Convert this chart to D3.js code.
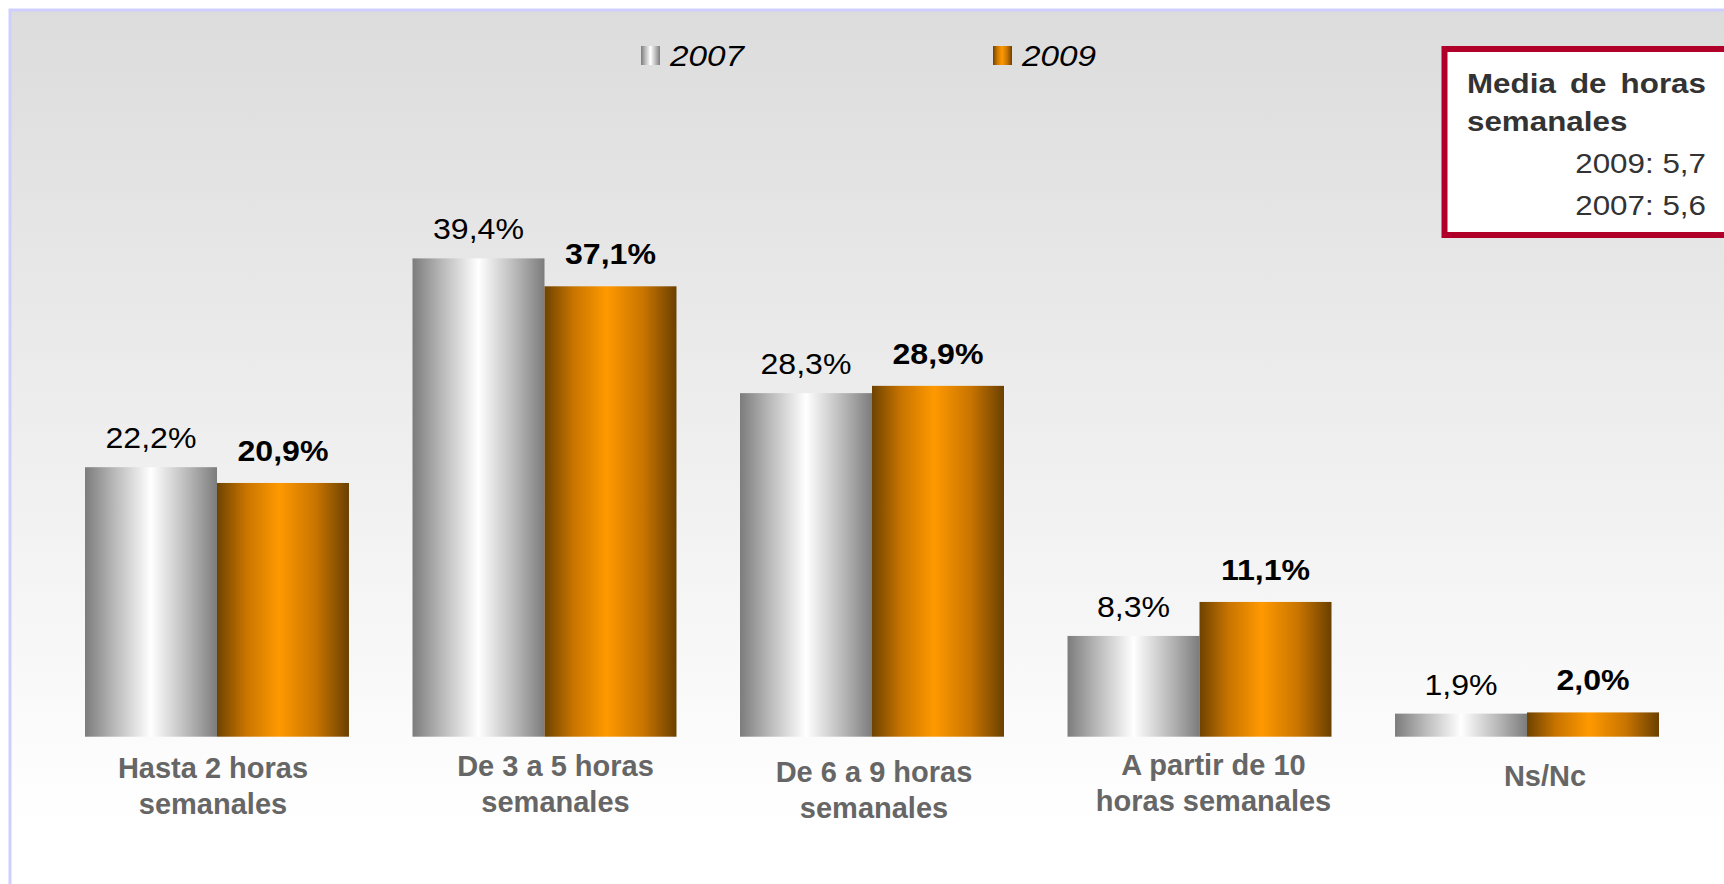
<!DOCTYPE html>
<html>
<head>
<meta charset="utf-8">
<script src="https://cdn.jsdelivr.net/npm/d3@7"></script>
<style>
  html,body{margin:0;padding:0;background:#fff;}
  svg{display:block;font-family:"Liberation Sans",Arial,Helvetica,sans-serif;}
</style>
</head>
<body>
<svg id="chart" width="1724" height="884"></svg>
<script>
// ── Data ──
const categories=[["Hasta 2 horas","semanales"],["De 3 a 5 horas","semanales"],["De 6 a 9 horas","semanales"],["A partir de 10","horas semanales"],["Ns/Nc"]];
const years=["2007","2009"];
const v2007=[22.2,39.4,28.3,8.3,1.9];
const v2009=[20.9,37.1,28.9,11.1,2.0];
const boxTitle=["Media de horas","semanales"];
const boxLines=["2009: 5,7","2007: 5,6"];

// category label nudges (the source text boxes are not perfectly centred)
const labelDx=[-4,11,2,14,18];
const labelDy=[41,39,45,38,49];

const W=1724,H=884;
const svg=d3.select('#chart');
const defs=svg.append('defs');
const es=d3.formatLocale({decimal:',',thousands:'.',grouping:[3],currency:['','€']});
const pct=v=>es.format('.1f')(v)+'%';

function hGrad(id,stops){
  const g=defs.append('linearGradient').attr('id',id).attr('x1',0).attr('x2',1).attr('y1',0).attr('y2',0);
  stops.forEach(s=>g.append('stop').attr('offset',s[0]).attr('stop-color',s[1]));
}
hGrad('g2007',[[0,'#7c7c7c'],[0.22,'#b8b8b8'],[0.5,'#ffffff'],[0.78,'#b8b8b8'],[1,'#7c7c7c']]);
hGrad('g2009',[[0,'#6e4300'],[0.22,'#c87400'],[0.47,'#ff9900'],[0.75,'#c87400'],[1,'#6a4000']]);
const bg=defs.append('linearGradient').attr('id','bg').attr('x1',0).attr('x2',0).attr('y1',0).attr('y2',1);
bg.append('stop').attr('offset',0).attr('stop-color','#dcdcdc');
bg.append('stop').attr('offset',0.9).attr('stop-color','#ffffff');

// ── Frame / background ──
svg.append('rect').attr('x',10).attr('y',10).attr('width',W+20).attr('height',H+20)
  .attr('fill','url(#bg)').attr('stroke','#cfcfff').attr('stroke-width',3);

// ── Scales ──
const x=d3.scaleBand().domain(d3.range(categories.length)).range([85,1659]).paddingInner(0.194).paddingOuter(0);
const xs=d3.scaleBand().domain(years).range([0,x.bandwidth()]);
const y=d3.scaleLinear().domain([0,40]).range([736.7,251.1]);

const series=[{year:'2007',vals:v2007},{year:'2009',vals:v2009}];
const groups=svg.append('g').selectAll('g').data(categories).join('g')
  .attr('transform',(d,i)=>`translate(${x(i)},0)`);

series.forEach(s=>{
  groups.append('rect')
    .attr('x',xs(s.year)).attr('width',xs.bandwidth())
    .attr('y',(d,i)=>y(s.vals[i])).attr('height',(d,i)=>y(0)-y(s.vals[i]))
    .attr('fill',`url(#g${s.year})`);
  const bold=s.year==='2009';
  // source text is slightly stretched horizontally
  groups.append('text')
    .attr('transform',(d,i)=>`translate(${xs(s.year)+xs.bandwidth()/2},${y(s.vals[i])-(bold?22:19)}) scale(1.07,1)`)
    .attr('text-anchor','middle').attr('font-size',30)
    .attr('font-weight',bold?'bold':'normal').attr('fill','#000')
    .text((d,i)=>pct(s.vals[i]));
});

// category labels
groups.append('text')
  .attr('text-anchor','middle').attr('font-size',29).attr('font-weight','bold').attr('fill','#666')
  .attr('transform',(d,i)=>`translate(${x.bandwidth()/2+labelDx[i]},${y(0)+labelDy[i]})`)
  .selectAll('tspan').data(d=>d).join('tspan')
  .attr('x',0).attr('dy',(d,j)=>j?36:0).text(d=>d);

// ── Legend ──
const legend=svg.append('g');
[{year:'2007',x:641},{year:'2009',x:993}].forEach(l=>{
  legend.append('rect').attr('x',l.x).attr('y',46).attr('width',19).attr('height',19).attr('fill',`url(#g${l.year})`);
  legend.append('text').attr('transform',`translate(${l.x+29},66) scale(1.11,1)`).attr('font-size',30).attr('font-style','italic')
    .attr('fill','#000').text(l.year);
});

// ── "Media de horas semanales" box ──
svg.append('rect').attr('x',1444.5).attr('y',49).attr('width',320).attr('height',186)
  .attr('fill','#fff').attr('stroke','#b0002a').attr('stroke-width',6);
const box=svg.append('g').attr('transform','translate(1467,0) scale(1.12,1)');
const t1=box.append('text').attr('x',0).attr('y',93).attr('font-size',28).attr('font-weight','bold')
  .attr('fill','#333').text(boxTitle[0]);
const target=(1706-1467)/1.12;
const gap=(target-t1.node().getComputedTextLength())/(boxTitle[0].split(' ').length-1);
t1.attr('word-spacing',Math.max(0,gap));
box.append('text').attr('x',0).attr('y',131).attr('font-size',28).attr('font-weight','bold')
  .attr('fill','#333').text(boxTitle[1]);
box.selectAll('text.val').data(boxLines).join('text').attr('class','val')
  .attr('x',target).attr('y',(d,i)=>173+i*42).attr('text-anchor','end')
  .attr('font-size',28).attr('fill','#333').text(d=>d);
</script>
</body>
</html>
